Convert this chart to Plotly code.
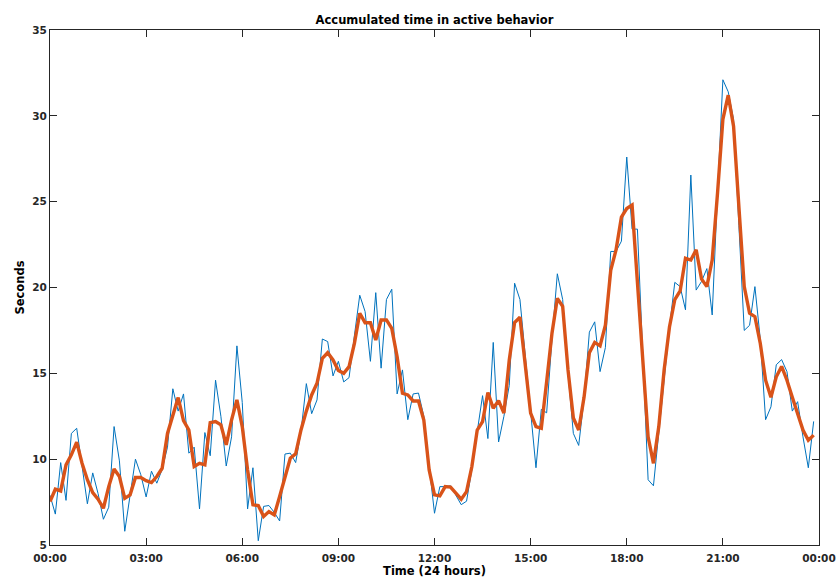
import plotly.graph_objects as go

# time stamps (minutes after midnight, 10-min bins)
minutes = list(range(0, 1440, 10))

raw_seconds = [
    7.9, 6.8, 9.8, 7.6, 11.5, 11.8, 9.6, 7.4, 9.2, 8.0,
    6.5, 7.2, 11.9, 9.9, 5.8, 7.8, 10.0, 9.1, 7.8, 9.3,
    8.6, 9.4, 10.7, 14.1, 12.8, 13.8, 10.35, 10.7, 7.1, 11.55,
    10.2, 14.6, 12.5, 9.6, 11.3, 16.6, 13.3, 7.1, 9.5, 5.25,
    7.25, 7.3, 6.9, 6.4, 10.3, 10.35, 9.8, 11.6, 14.4, 12.65,
    13.45, 17.0, 16.85, 14.85, 15.7, 14.5, 14.75, 17.2, 19.55, 18.6,
    15.7, 19.7, 15.3, 19.3, 19.9, 13.8, 15.2, 12.3, 13.8, 13.85,
    12.5, 9.6, 6.85, 8.4, 8.4, 8.45, 7.9, 7.35, 7.55, 9.4,
    11.6, 13.7, 11.2, 16.8, 11.0, 12.5, 14.3, 20.25, 19.3, 16.0,
    12.9, 9.5, 12.9, 12.7, 17.0, 20.8, 19.3, 15.0, 11.5, 10.8,
    13.5, 17.4, 18.0, 15.1, 16.5, 22.1, 22.1, 22.7, 27.6, 23.4,
    23.4, 16.0, 8.8, 8.45, 11.5, 14.8, 17.7, 20.3, 20.05, 18.7,
    26.55, 19.85, 20.35, 21.1, 18.4, 25.5, 32.1, 31.4, 29.8, 23.6,
    17.5, 17.8, 20.05, 17.0, 12.3, 13.05, 15.5, 15.8, 15.1, 12.8,
    13.35, 11.3, 9.5, 12.2,
]

smoothed_seconds = [
    7.53, 8.25, 8.15, 9.67, 10.25, 10.99, 9.76, 8.8, 8.05, 7.67,
    7.14, 8.4, 9.43, 8.99, 7.72, 7.92, 8.93, 8.93, 8.75, 8.64,
    8.99, 9.47, 11.5, 12.58, 13.59, 12.25, 11.7, 9.57, 9.76, 9.67,
    12.13, 12.19, 12.0, 10.83, 12.29, 13.45, 11.9, 9.37, 7.34, 7.3,
    6.66, 6.95, 6.75, 7.82, 8.99, 10.05, 10.31, 11.7, 12.8, 13.74,
    14.42, 15.87, 16.2, 15.78, 15.16, 15.0, 15.39, 16.75, 18.5, 17.95,
    17.95, 16.94, 18.11, 18.11, 17.62, 15.97, 13.84, 13.74, 13.39, 13.39,
    12.28, 9.37, 7.92, 7.86, 8.4, 8.37, 8.02, 7.67, 8.11, 9.57,
    11.7, 12.19, 13.88, 12.97, 13.41, 12.68, 15.78, 17.96, 18.27, 15.39,
    12.68, 11.9, 11.8, 14.52, 17.34, 19.37, 18.9, 15.2, 12.4, 11.7,
    13.6, 16.2, 16.8, 16.6, 17.8, 21.0, 22.2, 24.1, 24.6, 24.8,
    20.5, 15.8, 11.3, 9.76, 11.9, 15.2, 17.7, 19.3, 19.8, 21.7,
    21.6, 22.2, 20.5, 20.05, 21.6, 25.5, 29.8, 31.2, 29.4, 24.7,
    20.05, 18.5, 18.3, 16.75, 14.6, 13.6, 14.8, 15.4, 14.6, 13.6,
    12.7, 11.7, 11.1, 11.4,
]

x_tick_hours = [0, 3, 6, 9, 12, 15, 18, 21, 24]
x_tick_labels = ["00:00", "03:00", "06:00", "09:00", "12:00", "15:00", "18:00", "21:00", "00:00"]
y_ticks = [5, 10, 15, 20, 25, 30, 35]

hours = [m / 60 for m in minutes]

axis_color = "#262626"
font_family = "DejaVu Sans"

fig = go.Figure()
fig.add_trace(go.Scatter(x=hours, y=raw_seconds, mode="lines",
                         line=dict(color="#0072BD", width=1), showlegend=False))
fig.add_trace(go.Scatter(x=hours, y=smoothed_seconds, mode="lines",
                         line=dict(color="#D95319", width=3.4), showlegend=False))

fig.update_layout(
    width=837, height=578,
    margin=dict(l=50, r=18, t=30, b=33),
    paper_bgcolor="white", plot_bgcolor="white",
    font=dict(family=font_family, color=axis_color, size=11),
    title=dict(text="<b>Accumulated time in active behavior</b>",
               x=0.5, xref="paper", xanchor="center",
               y=1 - 20 / 578, yref="container", yanchor="middle",
               font=dict(family=font_family, size=11.5, color="black")),
)
fig.update_xaxes(
    range=[0, 24], tickvals=x_tick_hours, ticktext=x_tick_labels,
    ticks="inside", ticklen=7, tickcolor=axis_color, tickwidth=1,
    showline=True, linecolor=axis_color, linewidth=1, mirror="ticks",
    showgrid=False, zeroline=False, automargin=False,
    ticklabeloverflow="allow", ticklabelstandoff=3,
    tickfont=dict(family=font_family, size=10.5, weight="bold", color=axis_color),
    title=dict(text="<b>Time (24 hours)</b>", standoff=3,
               font=dict(family=font_family, size=11.5, color="black")),
)
fig.update_yaxes(
    range=[5, 35], tickvals=y_ticks,
    ticks="inside", ticklen=7, tickcolor=axis_color, tickwidth=1,
    showline=True, linecolor=axis_color, linewidth=1, mirror="ticks",
    showgrid=False, zeroline=False, automargin=False,
    tickfont=dict(family=font_family, size=10.5, weight="bold", color=axis_color),
    title=dict(text="<b>Seconds</b>", standoff=5,
               font=dict(family=font_family, size=11.5, color="black")),
)

fig.write_html(
    "out.html",
    config={"displayModeBar": False},
    post_script="document.body.style.margin='0';document.body.style.overflow='hidden';",
)
